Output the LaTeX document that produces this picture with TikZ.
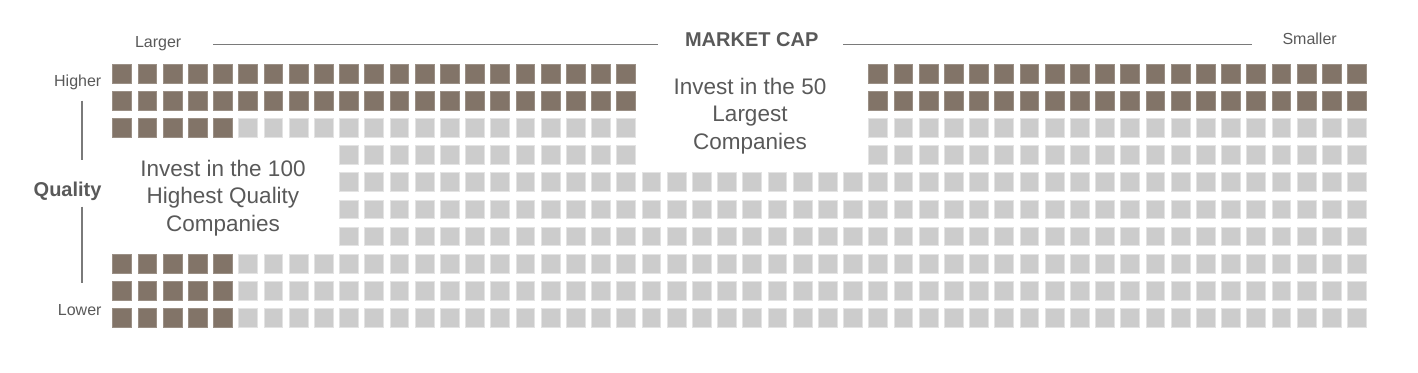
\documentclass[tikz,border=0pt]{standalone}
\usepackage{fontspec}
\setmainfont{Liberation Sans}
\usepackage{xcolor}
\usetikzlibrary{positioning}

\definecolor{celldark}{HTML}{827468}
\definecolor{celllight}{HTML}{CCCCCC}
\definecolor{labelgray}{HTML}{595959}
\definecolor{rulegray}{HTML}{7A7A7A}

\tikzset{
  darkcell/.style={fill=celldark, draw=celldark!80!white, line width=0.8pt},
  lightcell/.style={fill=celllight, draw=celllight!55!white, line width=0.8pt},
  axislabel/.style={text=labelgray, inner sep=0pt, font=\fontsize{16}{19}\selectfont},
  axistitle/.style={text=labelgray, inner sep=0pt, font=\bfseries\fontsize{20}{24}\selectfont},
  callout/.style={text=labelgray, inner sep=0pt, align=center, font=\fontsize{22.5}{27.5}\selectfont},
  axisline/.style={draw=rulegray, line width=1.6pt}
}

% #1 style, #2-#3 columns, #4-#5 rows
\newcommand{\cellblock}[5]{%
  \foreach \c in {#2,...,#3}
    \foreach \r in {#4,...,#5}
      \path[#1] ({112.7+\c*25.2},{64.4+\r*27.1}) rectangle ++(18.8,18.8);
}

\begin{document}
\begin{tikzpicture}[x=1pt, y=-1pt]
\useasboundingbox (0,0) rectangle (1418,372);

% dark cells
\cellblock{darkcell}{0}{20}{0}{1}
\cellblock{darkcell}{30}{49}{0}{1}
\cellblock{darkcell}{0}{4}{2}{2}
\cellblock{darkcell}{0}{4}{7}{9}
% light cells
\cellblock{lightcell}{5}{20}{2}{2}
\cellblock{lightcell}{30}{49}{2}{3}
\cellblock{lightcell}{9}{20}{3}{3}
\cellblock{lightcell}{9}{49}{4}{6}
\cellblock{lightcell}{5}{49}{7}{9}

% market cap axis
\node (larger) [axislabel, anchor=base west] at (134.8,47) {Larger};
\node (mcap) [axistitle, anchor=base] at (751.7,46) {MARKET CAP};
\node (smaller) [axislabel, anchor=base] at (1309.6,44.4) {Smaller};
\coordinate (capA) at (213,44.4);
\coordinate (capB) at (658,44.4);
\coordinate (capC) at (843,44.4);
\coordinate (capD) at (1252,44.4);
\draw[axisline] (capA) -- (capB);
\draw[axisline] (capC) -- (capD);

% quality axis
\node (higher) [axislabel, anchor=base east] at (101.5,86.5) {Higher};
\node (quality) [axistitle, anchor=base east] at (101.7,196.7) {Quality};
\node (lower) [axislabel, anchor=base east] at (101.7,315.4) {Lower};
\coordinate (qualA) at (81.7,100.7);
\coordinate (qualB) at (81.7,160);
\coordinate (qualC) at (81.7,206.7);
\coordinate (qualD) at (81.7,283.3);
\draw[axisline] (qualA) -- (qualB);
\draw[axisline] (qualC) -- (qualD);

% callouts
\node (largest) [callout] at (750,116) {Invest in the 50\\Largest\\Companies};
\node (highest) [callout] at (223,198) {Invest in the 100\\Highest Quality\\Companies};
\end{tikzpicture}
\end{document}
